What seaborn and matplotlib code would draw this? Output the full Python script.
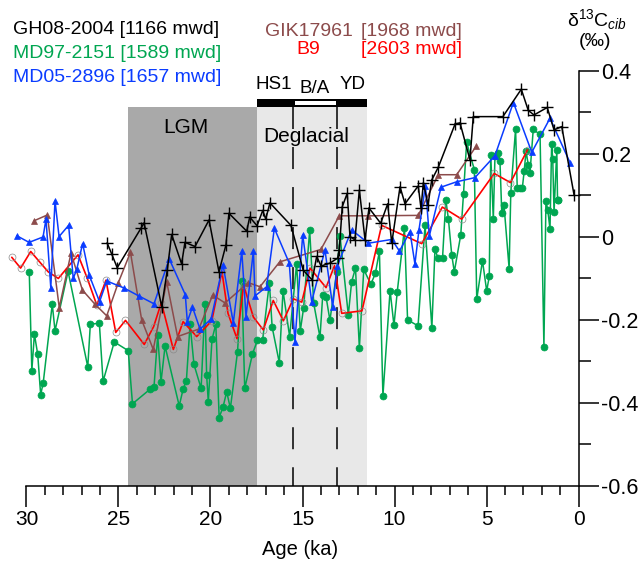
import pandas as pd
import matplotlib.pyplot as plt
import seaborn as sns
from matplotlib.patches import Rectangle

# ---- data: age (ka) and benthic d13C (permil) ----
gh08_age = [25.62, 25.37, 25.07, 23.78, 23.61, 22.65, 22.35, 22.11, 21.57, 21.39,
            20.84, 20.08, 19.54, 19.16, 19.0, 18.03, 17.87, 17.47, 17.16, 17.0,
            16.77, 15.63, 14.96, 14.47, 14.23, 13.99, 13.51, 13.09, 13.0, 12.84,
            12.57, 12.42, 12.15, 11.91, 11.6, 11.39, 10.75, 10.37, 10.15, 9.7,
            9.43, 8.71, 8.56, 8.43, 8.18, 7.98, 7.62, 6.71, 6.44, 5.9,
            5.72, 4.11, 3.11, 2.73, 2.42, 1.70, 1.33, 0.91, 0.24]
gh08_d13c = [-0.014, -0.041, -0.074, 0.021, 0.034, -0.168, -0.080, 0.006, -0.065, -0.013,
             -0.023, 0.041, -0.084, -0.019, 0.057, 0.014, 0.048, 0.027, 0.064, 0.043,
             0.082, 0.028, -0.080, -0.104, -0.047, -0.070, -0.063, -0.051, -0.031, 0.073,
             0.105, 0.001, -0.007, 0.113, -0.007, 0.070, 0.033, 0.080, -0.015, 0.121,
             0.080, 0.123, 0.069, 0.131, 0.077, 0.137, 0.168, 0.272, 0.275, 0.186,
             0.290, 0.290, 0.356, 0.305, 0.294, 0.312, 0.258, 0.266, 0.101]

md97_age = [29.85, 29.71, 29.57, 29.39, 29.23, 29.09, 28.60, 28.45, 27.74, 26.67,
            26.53, 26.04, 25.84, 25.23, 24.47, 24.24, 23.29, 23.07, 22.87, 22.69,
            22.47, 21.70, 21.49, 21.31, 21.11, 20.90, 20.51, 20.30, 20.21, 20.12,
            19.92, 19.71, 19.53, 19.32, 19.12, 18.92, 18.53, 18.30, 18.14, 17.72,
            17.45, 17.17, 16.80, 16.65, 16.26, 16.06, 15.70, 15.32, 15.12, 14.94,
            14.61, 14.39, 14.05, 13.90, 13.72, 13.51, 13.14, 12.96, 12.51, 12.33,
            12.12, 11.91, 11.67, 11.29, 11.04, 10.82, 10.63, 10.24, 10.03, 9.85,
            9.46, 9.29, 8.72, 8.34, 7.97, 7.80, 7.64, 7.39, 7.21, 7.07,
            6.89, 6.75, 6.40, 6.25, 6.08, 5.66, 5.53, 5.22, 4.99, 4.85,
            4.77, 4.63, 4.54, 4.36, 4.27, 4.17, 4.05, 3.77, 3.68, 3.42,
            3.33, 3.18, 3.05, 2.95, 2.85, 2.73, 2.64, 2.46, 2.09, 1.88,
            1.77, 1.67, 1.55, 1.46, 1.40, 1.33, 1.18, 1.14, 1.09]
md97_d13c = [-0.084, -0.322, -0.234, -0.283, -0.380, -0.351, -0.162, -0.226, -0.083, -0.313,
             -0.210, -0.208, -0.348, -0.253, -0.274, -0.402, -0.367, -0.361, -0.237, -0.349,
             -0.263, -0.407, -0.367, -0.346, -0.210, -0.307, -0.365, -0.162, -0.333, -0.397,
             -0.247, -0.210, -0.435, -0.410, -0.373, -0.413, -0.276, -0.105, -0.365, -0.282,
             -0.249, -0.249, -0.110, -0.217, -0.303, -0.129, -0.240, -0.065, -0.226, -0.171,
             0.016, -0.160, -0.242, -0.140, -0.144, -0.201, -0.084, 0.002, -0.188, -0.108,
             -0.075, -0.268, -0.078, -0.114, -0.088, -0.034, -0.383, -0.129, -0.213, -0.132,
             0.021, -0.200, -0.214, 0.028, -0.219, -0.029, -0.051, -0.051, 0.089, 0.043,
             -0.043, -0.084, 0.005, 0.104, 0.228, 0.162, -0.150, -0.057, -0.130, -0.095,
             0.198, 0.043, 0.195, 0.203, 0.184, 0.057, 0.077, -0.076, 0.107, 0.260,
             0.118, 0.118, 0.119, 0.160, 0.207, 0.173, 0.153, 0.259, 0.247, -0.264,
             0.087, 0.065, 0.019, 0.224, 0.187, 0.059, 0.210, 0.088, 0.089]

md05_age = [30.53, 29.86, 29.10, 28.94, 28.68, 28.45, 28.23, 27.71, 27.46, 27.27,
            26.95, 26.59, 26.03, 25.64, 24.70, 23.90, 23.07, 22.24, 21.37, 21.26,
            20.98, 20.57, 19.97, 19.32, 18.76, 18.30, 18.07, 17.67, 17.58, 16.95,
            16.53, 15.72, 15.41, 14.99, 14.50, 13.78, 13.36, 13.11, 12.33, 11.42,
            10.15, 9.73, 9.16, 8.89, 8.67, 8.32, 8.11, 7.47, 6.62, 5.63,
            4.54, 3.54, 2.54, 1.55, 0.45]
md05_d13c = [0.003, -0.013, 0.000, 0.043, -0.122, 0.087, 0.001, 0.028, -0.100, -0.078,
             -0.016, -0.092, -0.156, -0.106, -0.123, -0.142, -0.161, -0.053, -0.139, -0.204,
             -0.169, -0.222, -0.198, -0.067, -0.207, -0.034, -0.192, -0.034, -0.142, -0.120,
             0.021, -0.063, -0.252, 0.005, -0.156, -0.031, -0.168, -0.070, 0.017, -0.015,
             -0.006, -0.034, 0.013, -0.065, 0.017, 0.124, 0.002, 0.120, 0.133, 0.143,
             0.196, 0.324, 0.204, 0.286, 0.178]

gik_age = [29.59, 28.87, 28.22, 27.58, 26.96, 26.30, 25.64, 25.01, 24.35, 23.74,
           23.11, 22.38, 21.79, 20.64, 19.88, 19.21, 17.95, 17.31, 16.24, 14.0,
           13.0, 11.42, 8.71, 7.62, 6.62, 5.57]
gik_d13c = [0.039, 0.053, -0.170, -0.039, -0.128, -0.161, -0.190, -0.110, -0.037, -0.200,
            -0.271, -0.108, -0.240, -0.222, -0.140, -0.159, -0.110, -0.120, -0.060, -0.030,
            0.051, 0.051, 0.052, 0.150, 0.150, 0.218]

b9_age = [30.80, 30.32, 29.77, 29.27, 28.82, 28.27, 27.20, 26.71, 26.18, 25.68,
          25.15, 24.62, 23.60, 23.09, 22.67, 22.02, 21.49, 20.75, 19.93, 19.38,
          19.05, 18.56, 18.20, 17.67, 17.13, 16.59, 16.04, 15.50, 15.04, 14.59,
          13.72, 13.26, 12.87, 11.77, 10.70, 8.52, 7.40, 6.35, 4.58, 3.70, 2.77]
b9_d13c = [-0.049, -0.075, -0.035, -0.061, -0.084, -0.100, -0.043, -0.098, -0.164, -0.104,
           -0.230, -0.201, -0.259, -0.216, -0.158, -0.271, -0.204, -0.240, -0.202, -0.083,
           -0.184, -0.245, -0.116, -0.193, -0.224, -0.153, -0.202, -0.149, -0.157, -0.075,
           -0.122, -0.069, -0.184, -0.178, 0.028, -0.016, 0.072, 0.043, 0.153, 0.131, 0.210]

x_ticks = [30, 25, 20, 15, 10, 5, 0]
x_tick_labels = ["30", "25", "20", "15", "10", "5", "0"]
y_ticks = [0.4, 0.2, 0.0, -0.2, -0.4, -0.6]
y_tick_labels = ["0.4", "0.2", "0", "-0.2", "-0.4", "-0.6"]

GREEN = "#00a651"
BLUE = "#0a3cff"
BROWN = "#8c4b4b"
RED = "#ff0000"

sns.set_style("ticks")
plt.rcParams["font.family"] = ["Liberation Sans", "DejaVu Sans"]
plt.rcParams["mathtext.fontset"] = "custom"
plt.rcParams["mathtext.rm"] = "Liberation Sans"
plt.rcParams["mathtext.it"] = "Liberation Sans:italic"

fig = plt.figure(figsize=(6.43, 5.64), dpi=100)
ax = fig.add_axes([0, 0, 1, 1])

# time windows
ax.fill_between([24.5, 17.5], -0.6, 0.313, color="#a9a9a9", lw=0, zorder=0)
ax.fill_between([17.5, 11.5], -0.6, 0.313, color="#e8e8e8", lw=0, zorder=0)
ax.add_patch(Rectangle((11.5, 0.313), 6.0, 0.02, color="k", lw=0, zorder=1))
ax.add_patch(Rectangle((13.2, 0.3178), 2.22, 0.0105, color="w", lw=0, zorder=2))
for a in [15.5, 13.1]:
    ax.plot([a, a], [0.313, -0.6], color="k", lw=1.1, dashes=(14.4, 11.8), zorder=1)

# records
sns.lineplot(x=md97_age, y=md97_d13c, sort=False, estimator=None, color=GREEN, lw=1.1,
             marker="o", ms=5, mec=GREEN, mfc=GREEN, mew=0.5, ax=ax, zorder=3)
sns.lineplot(x=b9_age, y=b9_d13c, sort=False, estimator=None, color=RED, lw=1.2,
             marker="o", ms=5, mec="#8a8a8a", mfc="none", mew=0.5, ax=ax, zorder=4)
sns.lineplot(x=gik_age, y=gik_d13c, sort=False, estimator=None, color=BROWN, lw=1.1,
             marker="^", ms=4, mec=BROWN, mfc=BROWN, mew=0.5, ax=ax, zorder=5)
sns.lineplot(x=md05_age, y=md05_d13c, sort=False, estimator=None, color=BLUE, lw=1.1,
             marker="^", ms=4, mec=BLUE, mfc=BLUE, mew=0.5, ax=ax, zorder=6)
sns.lineplot(x=gh08_age, y=gh08_d13c, sort=False, estimator=None, color="k", lw=1.1,
             marker="+", ms=9, mec="k", mew=1.0, ax=ax, zorder=7)

ax.set_xlim(31.44, -3.505)
ax.set_ylim(-0.788, 0.571)
ax.set_xlabel("")
ax.set_ylabel("")

# axes: x axis at -0.6, y axis at age 0 with labels on the right
ax.spines["top"].set_visible(False)
ax.spines["left"].set_visible(False)
ax.spines["bottom"].set_position(("data", -0.6))
ax.spines["bottom"].set_bounds(0, 30)
ax.spines["right"].set_position(("data", 0))
ax.spines["right"].set_bounds(-0.6, 0.4)
for s in ["bottom", "right"]:
    ax.spines[s].set_color("k")
    ax.spines[s].set_linewidth(1.1)
ax.yaxis.tick_right()

ax.set_xticks(x_ticks)
ax.set_xticklabels(x_tick_labels)
ax.set_xticks(range(0, 31), minor=True)
ax.set_yticks(y_ticks)
ax.set_yticklabels(y_tick_labels)
ax.set_yticks([0.3, 0.1, -0.1, -0.3, -0.5], minor=True)
ax.tick_params(axis="x", which="major", direction="out", length=15, width=1.1,
               labelsize=15, pad=2, color="k", labelcolor="k")
ax.tick_params(axis="x", which="minor", direction="out", length=6.5, width=1.1, color="k")
ax.tick_params(axis="y", which="major", direction="out", length=14.4, width=1.1,
               labelsize=15.5, pad=2, color="k", labelcolor="k",
               right=True, left=False, labelright=True, labelleft=False)
ax.tick_params(axis="y", which="minor", direction="out", length=8.6, width=1.1,
               color="k", right=True, left=False)

# labels
ax.text(15.14, -0.752, "Age (ka)", ha="center", va="center", fontsize=14.5, color="k")
ax.text(-0.99, 0.508, r"$\mathregular{\delta^{13}C}_{cib}$", ha="center", va="baseline",
        fontsize=14, color="k")
ax.text(-0.9, 0.459, "(‰)", ha="center", va="baseline", fontsize=14, color="k")

ax.text(30.73, 0.489, "GH08-2004 [1166 mwd]", ha="left", va="baseline", fontsize=14, color="k")
ax.text(30.73, 0.431, "MD97-2151 [1589 mwd]", ha="left", va="baseline", fontsize=14, color=GREEN)
ax.text(30.73, 0.374, "MD05-2896 [1657 mwd]", ha="left", va="baseline", fontsize=14, color=BLUE)
ax.text(17.04, 0.484, "GIK17961", ha="left", va="baseline", fontsize=14, color=BROWN)
ax.text(11.84, 0.484, "[1968 mwd]", ha="left", va="baseline", fontsize=14, color=BROWN)
ax.text(14.67, 0.441, "B9", ha="center", va="baseline", fontsize=14, color=RED)
ax.text(11.84, 0.441, "[2603 mwd]", ha="left", va="baseline", fontsize=14, color=RED)

ax.text(17.58, 0.356, "HS1", ha="left", va="baseline", fontsize=13.5, color="k")
ax.text(15.14, 0.346, "B/A", ha="left", va="baseline", fontsize=13.5, color="k")
ax.text(13.0, 0.356, "YD", ha="left", va="baseline", fontsize=13.5, color="k")
ax.text(22.57, 0.250, "LGM", ha="left", va="baseline", fontsize=15, color="k")
ax.text(17.13, 0.2296, "Deglacial", ha="left", va="baseline", fontsize=15, color="k")

fig.savefig("out.png", dpi=100, facecolor="white")
